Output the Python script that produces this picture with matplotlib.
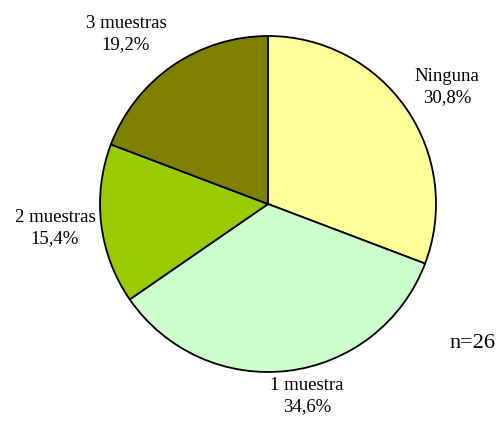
import matplotlib.pyplot as plt

categorias = ['Ninguna', '1 muestra', '2 muestras', '3 muestras']
valores = [8, 9, 4, 5]
porcentajes = ['30,8%', '34,6%', '15,4%', '19,2%']
colores = ['#FFFF99', '#CCFFCC', '#99CC00', '#808000']
n_total = 26

# label anchors in pixel coords (origin top-left)
pos_etiquetas = [(447, 87), (307, 396), (55, 228), (126, 34)]

W, H = 497, 430
fig = plt.figure(figsize=(W / 100, H / 100), dpi=100)
ax = fig.add_axes([0, 0, 1, 1])

ax.pie(valores, colors=colores, startangle=90, counterclock=False,
       center=(268, H - 204), radius=168, frame=True,
       wedgeprops={'edgecolor': 'black', 'linewidth': 1.3})
ax.set_xlim(0, W)
ax.set_ylim(0, H)
ax.set_aspect('equal')
ax.axis('off')

for cat, pct, (x, y) in zip(categorias, porcentajes, pos_etiquetas):
    ax.text(x, H - y, f'{cat}\n{pct}', ha='center', va='center',
            fontsize=13.5, family='Liberation Serif', linespacing=1.3)

ax.text(495, H - 343, f'n={n_total}', ha='right', va='center',
        fontsize=16, family='Liberation Serif')

fig.savefig('out.png', dpi=100)
